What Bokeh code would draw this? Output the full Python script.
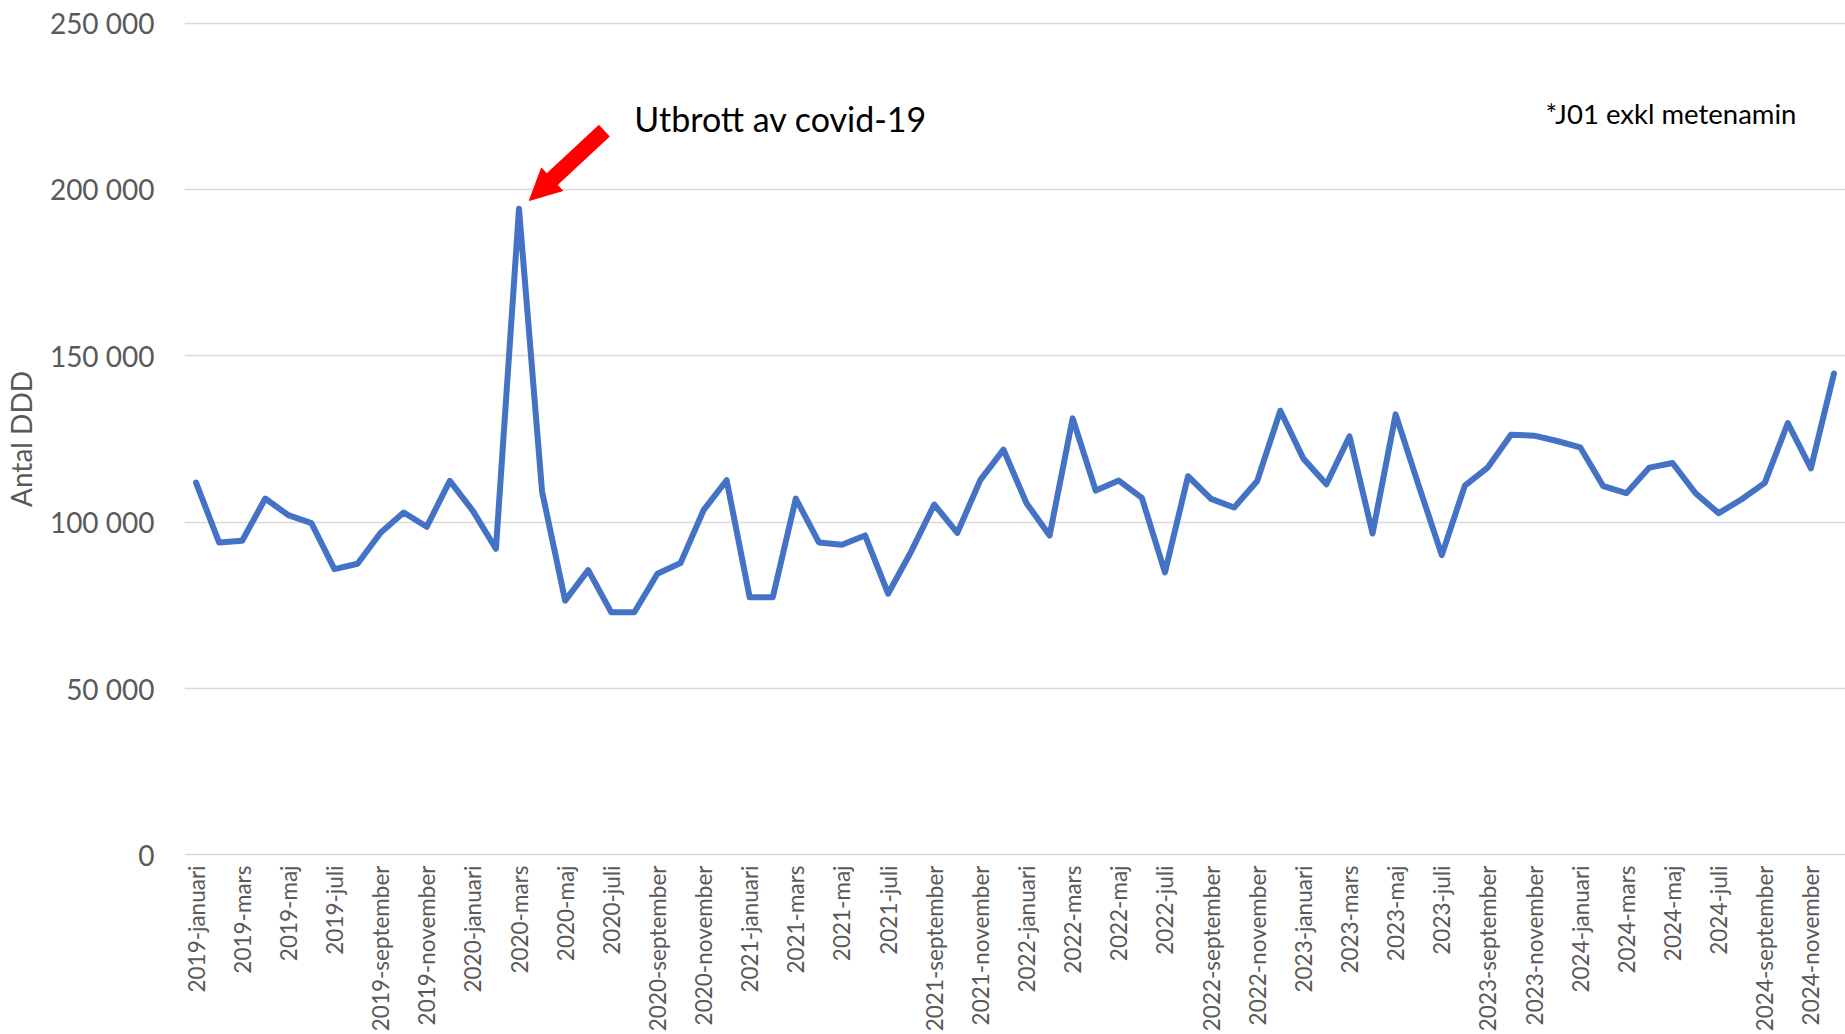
import numpy as np
from bokeh.plotting import figure
from bokeh.models import Arrow, NormalHead, Label, FixedTicker, Range1d
from bokeh.embed import file_html
from bokeh.resources import INLINE

years = [2019, 2020, 2021, 2022, 2023, 2024]
months = ["januari", "februari", "mars", "april", "maj", "juni", "juli",
          "augusti", "september", "oktober", "november", "december"]
categories = [f"{y}-{m}" for y in years for m in months]

ddd_2019 = [111900, 93900, 94400, 107100, 102100, 99700, 85900, 87500, 96800, 102900, 98600, 112400]
ddd_2020 = [103400, 92000, 194200, 109200, 76400, 85600, 72900, 72900, 84500, 87700, 103600, 112600]
ddd_2021 = [77400, 77400, 107100, 93900, 93200, 96000, 78500, 91200, 105300, 96800, 112700, 121800]
ddd_2022 = [105700, 96000, 131200, 109500, 112500, 107300, 84900, 113800, 107000, 104400, 112400, 133500]
ddd_2023 = [119100, 111400, 125800, 96600, 132400, 111000, 90100, 111000, 116500, 126300, 126000, 124400]
ddd_2024 = [122500, 110800, 108700, 116400, 117800, 108700, 102700, 106900, 111800, 129800, 116200, 144700]
values = ddd_2019 + ddd_2020 + ddd_2021 + ddd_2022 + ddd_2023 + ddd_2024

y_ticks = [0, 50000, 100000, 150000, 200000, 250000]
y_tick_labels = ["0", "50 000", "100 000", "150 000", "200 000", "250 000"]

annotation_text = "Utbrott av covid-19"
note_text = "*J01 exkl metenamin"
y_title = "Antal DDD"

FONT = "Lato"
GRAY = "#595959"

x = list(range(len(categories)))

p = figure(width=1845, height=1034, output_backend="svg", toolbar_location=None,
           x_range=Range1d(-0.5, len(categories) - 0.5),
           y_range=Range1d(-500, 250500),
           min_border_left=181, min_border_right=0, min_border_top=21,
           min_border_bottom=150)
p.outline_line_color = None
p.background_fill_color = "white"
p.border_fill_color = "white"

p.line(x, values, line_color="#4472C4", line_width=6, line_join="round", line_cap="round")

# x axis
p.xaxis.ticker = FixedTicker(ticks=list(range(0, len(categories), 2)))
p.xaxis.major_label_overrides = {i: categories[i] for i in range(0, len(categories), 2)}
p.xaxis.major_label_orientation = np.pi / 2
p.xaxis.axis_line_color = None
p.xaxis.major_tick_line_color = None
p.xaxis.minor_tick_line_color = None
p.xaxis.major_tick_out = 0
p.xaxis.major_tick_in = 0
p.xaxis.minor_tick_out = 0
p.xaxis.major_label_standoff = 9
p.xaxis.major_label_text_font = FONT
p.xaxis.major_label_text_font_size = "22.5px"
p.xaxis.major_label_text_color = GRAY
p.xgrid.visible = False

# y axis
p.yaxis.ticker = FixedTicker(ticks=y_ticks)
p.yaxis.major_label_overrides = {t: l for t, l in zip(y_ticks, y_tick_labels)}
p.yaxis.axis_line_color = None
p.yaxis.major_tick_line_color = None
p.yaxis.minor_tick_line_color = None
p.yaxis.major_tick_out = 0
p.yaxis.major_tick_in = 0
p.yaxis.minor_tick_out = 0
p.yaxis.major_label_standoff = 30
p.yaxis.major_label_text_font = FONT
p.yaxis.major_label_text_font_size = "28px"
p.yaxis.major_label_text_color = GRAY
p.yaxis.axis_label = y_title
p.yaxis.axis_label_text_font = FONT
p.yaxis.axis_label_text_font_size = "28px"
p.yaxis.axis_label_text_font_style = "normal"
p.yaxis.axis_label_text_color = GRAY
p.yaxis.axis_label_standoff = 9
p.ygrid.ticker = FixedTicker(ticks=y_ticks)
p.ygrid.grid_line_color = "#D9D9D9"
p.ygrid.grid_line_width = 1.5

# annotations anchored on the peak
peak_i = int(np.argmax(values))
peak_v = values[peak_i]
p.add_layout(Arrow(end=NormalHead(size=31, fill_color="#FF0000", line_color="#FF0000"),
                   x_start=peak_i + 3.7, y_start=peak_v + 23500,
                   x_end=peak_i + 0.45, y_end=peak_v + 2500,
                   line_color="#FF0000", line_width=16))
p.add_layout(Label(x=peak_i + 5.0, y=peak_v + 27200, text=annotation_text,
                   text_font=FONT, text_font_size="34px", text_color="black",
                   text_baseline="middle", text_align="left"))
p.add_layout(Label(x=58.5, y=222800, text=note_text,
                   text_font=FONT, text_font_size="27.5px", text_color="black",
                   text_baseline="middle", text_align="left"))

open("out.html", "w").write(file_html(p, INLINE))
